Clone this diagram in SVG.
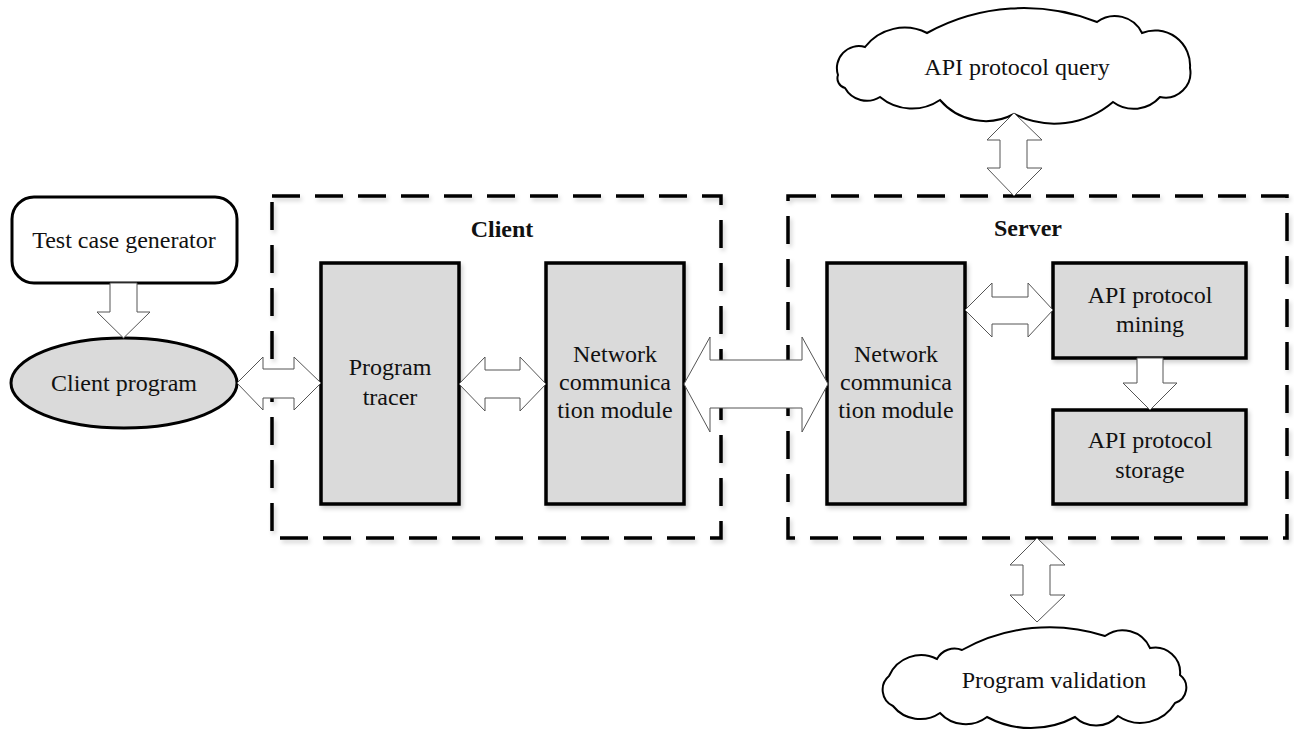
<svg xmlns="http://www.w3.org/2000/svg" width="1294" height="730" viewBox="0 0 1294 730">
<defs>
<filter id="sh" x="-10%" y="-10%" width="130%" height="130%">
<feDropShadow dx="2" dy="3" stdDeviation="2" flood-color="#000" flood-opacity="0.18"/>
</filter>
<style>
text{font-family:"Liberation Serif","Times New Roman",serif;font-size:24px;fill:#111;text-anchor:middle}
.bold{font-weight:bold}
.box{fill:#dadada;stroke:#000;stroke-width:3.5}
.frame{fill:none;stroke:#000;stroke-width:3.5;stroke-dasharray:28 15}
.arrow{fill:#fff;stroke:#555;stroke-width:1}
.cloud{fill:#fff;stroke:#000;stroke-width:2}
</style>
</defs>
<rect width="1294" height="730" fill="#fff"/>

<g id="client-frame">
<rect class="frame" x="272" y="196" width="449" height="342" filter="url(#sh)"/>
<text class="bold" x="502" y="237">Client</text>
</g>
<g id="server-frame">
<rect class="frame" x="788" y="196" width="499" height="342" filter="url(#sh)"/>
<text class="bold" x="1028" y="236">Server</text>
</g>

<g id="test-case-generator">
<rect x="12" y="197" width="225" height="86" rx="22" ry="22" fill="#fff" stroke="#000" stroke-width="3"/>
<text x="124" y="248">Test case generator</text>
</g>

<g id="client-program">
<ellipse cx="124" cy="383" rx="113" ry="45" fill="#dadada" stroke="#000" stroke-width="3"/>
<text x="124" y="391">Client program</text>
</g>

<g id="program-tracer">
<rect class="box" x="321" y="263" width="138" height="241" filter="url(#sh)"/>
<text x="390" y="375">Program</text>
<text x="390" y="405">tracer</text>
</g>

<g id="client-network">
<rect class="box" x="546" y="263" width="138" height="241" filter="url(#sh)"/>
<text x="615" y="362">Network</text>
<text x="615" y="390">communica</text>
<text x="615" y="418">tion module</text>
</g>

<g id="server-network">
<rect class="box" x="827" y="263" width="138" height="241" filter="url(#sh)"/>
<text x="896" y="362">Network</text>
<text x="896" y="390">communica</text>
<text x="896" y="418">tion module</text>
</g>

<g id="api-mining">
<rect class="box" x="1053" y="263" width="193" height="95" filter="url(#sh)"/>
<text x="1150" y="303">API protocol</text>
<text x="1150" y="332">mining</text>
</g>

<g id="api-storage">
<rect class="box" x="1053" y="410" width="193" height="94" filter="url(#sh)"/>
<text x="1150" y="448">API protocol</text>
<text x="1150" y="478">storage</text>
</g>

<g id="api-query">
<path class="cloud" d="M838,75 A22,22 0 0 1 865,47 A50,50 0 0 1 927,33 A200,200 0 0 1 1097,22 A30,30 0 0 1 1142,33 A35,35 0 0 1 1190,68 A25,25 0 0 1 1160,97 A35,35 0 0 1 1113,102 A90,90 0 0 1 1014,114 A60,60 0 0 1 940,100 A50,50 0 0 1 880,97 A25,25 0 0 1 845,88 A10,10 0 0 1 838,75 Z"/>
<text x="1017" y="75">API protocol query</text>
</g>

<g id="program-validation">
<path class="cloud" d="M893,706 A18,18 0 0 1 889,676 A35,35 0 0 1 937,659 A20,20 0 0 1 962,650 A180,180 0 0 1 1105,636 A30,30 0 0 1 1150,648 A25,25 0 0 1 1180,675 A16,16 0 0 1 1175,703 A40,40 0 0 1 1118,716 A30,30 0 0 1 1075,717 A93,93 0 0 1 987,717 A35,35 0 0 1 940,713 A35,35 0 0 1 893,706 Z"/>
<text x="1054" y="688">Program validation</text>
</g>

<g id="connectors">
<polygon class="arrow" points="110,283 137,283 137,312 150,312 123.5,338 97,312 110,312"/>
<polygon class="arrow" points="237,383 263,357 263,369 294,369 294,357 321,383 294,410 294,398 263,398 263,410"/>
<polygon class="arrow" points="459,384 485,357 485,370 520,370 520,357 546,384 520,411 520,398 485,398 485,411"/>
<polygon class="arrow" points="684,384 710,337 710,360 802,360 802,337 828,384 802,432 802,408 710,408 710,432"/>
<polygon class="arrow" points="965,310 992,283 992,297 1028,297 1028,283 1053,310 1028,337 1028,324 992,324 992,337"/>
<polygon class="arrow" points="1137,358 1163,358 1163,383 1177,383 1150,410 1123,383 1137,383"/>
<polygon class="arrow" points="1014,113 1042,140 1027,140 1027,168 1042,168 1014,196 987,168 1000,168 1000,140 987,140"/>
<polygon class="arrow" points="1037,538 1065,565 1050,565 1050,595 1065,595 1037,622 1010,595 1023,595 1023,565 1010,565"/>
</g>
</svg>
